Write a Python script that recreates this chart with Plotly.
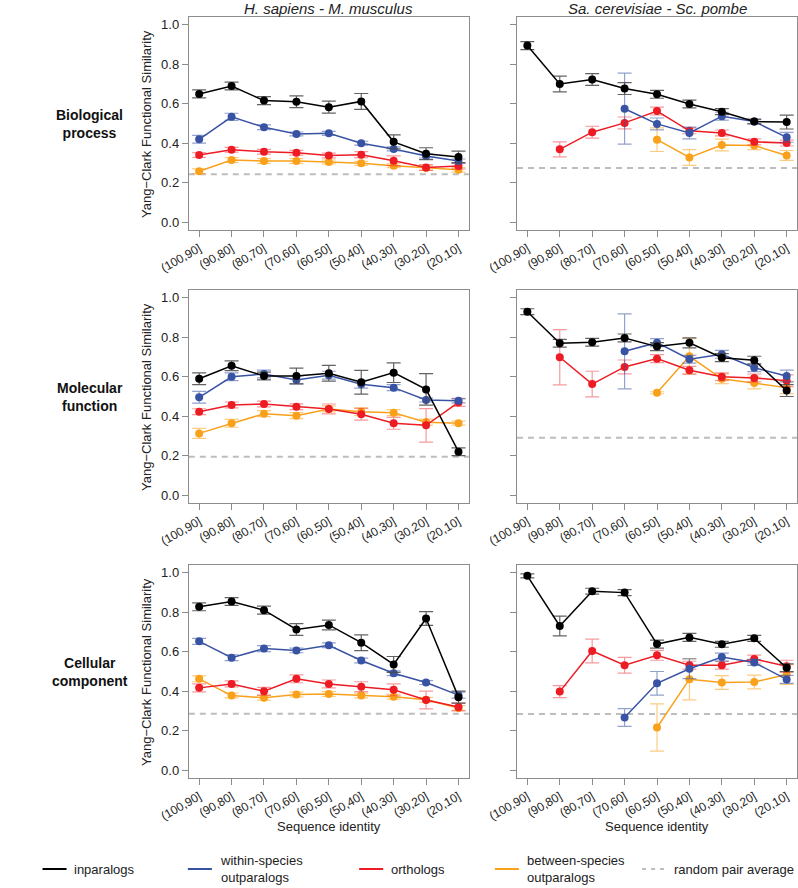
import plotly.graph_objects as go

# categories (sequence identity bins)
bins = ["(100,90]", "(90,80]", "(80,70]", "(70,60]", "(60,50]",
        "(50,40]", "(40,30]", "(30,20]", "(20,10]"]
xpos = list(range(1, 10))

col_titles = ["H. sapiens - M. musculus", "Sa. cerevisiae - Sc. pombe"]
row_titles = ["Biological<br>process", "Molecular<br>function", "Cellular<br>component"]
series_names = ["inparalogs", "within-species<br>outparalogs", "orthologs",
                "between-species<br>outparalogs", "random pair average"]
N = None

# ---- Biological process ----
bp_hs_inpar = [0.65, 0.69, 0.616, 0.61, 0.583, 0.612, 0.407, 0.347, 0.33]
bp_hs_inpar_err = [0.02, 0.02, 0.02, 0.03, 0.03, 0.04, 0.035, 0.03, 0.03]
bp_hs_within = [0.42, 0.534, 0.481, 0.447, 0.45, 0.40, 0.371, 0.335, 0.31]
bp_hs_within_err = [0.02, 0.018, 0.012, 0.01, 0.01, 0.01, 0.01, 0.01, 0.01]
bp_hs_orth = [0.34, 0.367, 0.357, 0.352, 0.338, 0.342, 0.311, 0.277, 0.285]
bp_hs_orth_err = [0.012, 0.012, 0.012, 0.012, 0.012, 0.015, 0.025, 0.015, 0.015]
bp_hs_between = [0.258, 0.315, 0.31, 0.31, 0.305, 0.298, 0.286, 0.274, 0.265]
bp_hs_between_err = [0.012, 0.012, 0.012, 0.012, 0.01, 0.01, 0.01, 0.012, 0.012]
bp_hs_random = 0.243

bp_sc_inpar = [0.895, 0.70, 0.723, 0.677, 0.648, 0.599, 0.56, 0.51, 0.507]
bp_sc_inpar_err = [0.02, 0.04, 0.03, 0.03, 0.02, 0.02, 0.015, 0.012, 0.035]
bp_sc_within = [N, N, N, 0.575, 0.498, 0.452, 0.537, 0.51, 0.43]
bp_sc_within_err = [N, N, N, 0.18, 0.03, 0.03, 0.02, 0.01, 0.025]
bp_sc_orth = [N, 0.369, 0.456, 0.503, 0.563, 0.463, 0.452, 0.407, 0.401]
bp_sc_orth_err = [N, 0.038, 0.03, 0.03, 0.02, 0.015, 0.015, 0.015, 0.015]
bp_sc_between = [N, N, N, N, 0.418, 0.328, 0.391, 0.388, 0.338]
bp_sc_between_err = [N, N, N, N, 0.06, 0.04, 0.03, 0.02, 0.025]
bp_sc_random = 0.274

# ---- Molecular function ----
mf_hs_inpar = [0.59, 0.656, 0.604, 0.604, 0.618, 0.572, 0.621, 0.536, 0.22]
mf_hs_inpar_err = [0.03, 0.025, 0.02, 0.04, 0.04, 0.06, 0.05, 0.08, 0.02]
mf_hs_within = [0.496, 0.60, 0.614, 0.584, 0.608, 0.562, 0.545, 0.482, 0.478]
mf_hs_within_err = [0.03, 0.02, 0.02, 0.02, 0.02, 0.02, 0.015, 0.01, 0.01]
mf_hs_orth = [0.423, 0.457, 0.462, 0.448, 0.437, 0.41, 0.364, 0.354, 0.47]
mf_hs_orth_err = [0.015, 0.015, 0.015, 0.015, 0.025, 0.03, 0.03, 0.085, 0.02]
mf_hs_between = [0.313, 0.364, 0.413, 0.403, 0.437, 0.423, 0.418, 0.37, 0.365]
mf_hs_between_err = [0.025, 0.02, 0.015, 0.015, 0.015, 0.02, 0.015, 0.015, 0.01]
mf_hs_random = 0.195

mf_sc_inpar = [0.93, 0.77, 0.775, 0.797, 0.753, 0.772, 0.697, 0.684, 0.53]
mf_sc_inpar_err = [0.015, 0.02, 0.02, 0.02, 0.02, 0.025, 0.02, 0.02, 0.03]
mf_sc_within = [N, N, N, 0.729, 0.773, 0.689, 0.714, 0.646, 0.604]
mf_sc_within_err = [N, N, N, 0.19, 0.02, 0.02, 0.02, 0.02, 0.03]
mf_sc_orth = [N, 0.699, 0.563, 0.65, 0.692, 0.633, 0.60, 0.594, 0.58]
mf_sc_orth_err = [N, 0.14, 0.065, 0.035, 0.02, 0.02, 0.02, 0.02, 0.03]
mf_sc_between = [N, N, N, N, 0.519, 0.704, 0.59, 0.569, 0.545]
mf_sc_between_err = [N, N, N, N, 0.005, 0.09, 0.025, 0.03, 0.03]
mf_sc_random = 0.291

# ---- Cellular component ----
cc_hs_inpar = [0.828, 0.855, 0.811, 0.713, 0.736, 0.646, 0.536, 0.769, 0.37]
cc_hs_inpar_err = [0.02, 0.02, 0.02, 0.03, 0.025, 0.04, 0.04, 0.035, 0.03]
cc_hs_within = [0.653, 0.57, 0.616, 0.607, 0.633, 0.556, 0.491, 0.444, 0.38]
cc_hs_within_err = [0.015, 0.015, 0.015, 0.012, 0.012, 0.012, 0.012, 0.01, 0.015]
cc_hs_orth = [0.417, 0.437, 0.40, 0.463, 0.437, 0.423, 0.407, 0.356, 0.32]
cc_hs_orth_err = [0.02, 0.015, 0.02, 0.02, 0.02, 0.025, 0.03, 0.045, 0.02]
cc_hs_between = [0.463, 0.378, 0.367, 0.383, 0.386, 0.378, 0.372, 0.357, 0.315]
cc_hs_between_err = [0.015, 0.012, 0.012, 0.012, 0.012, 0.012, 0.012, 0.012, 0.012]
cc_hs_random = 0.286

cc_sc_inpar = [0.985, 0.731, 0.907, 0.90, 0.639, 0.673, 0.638, 0.668, 0.519]
cc_sc_inpar_err = [0.01, 0.05, 0.015, 0.015, 0.02, 0.02, 0.015, 0.015, 0.02]
cc_sc_within = [N, N, N, 0.267, 0.44, 0.514, 0.573, 0.546, 0.46]
cc_sc_within_err = [N, N, N, 0.045, 0.06, 0.05, 0.02, 0.015, 0.02]
cc_sc_orth = [N, 0.398, 0.604, 0.532, 0.582, 0.532, 0.532, 0.563, 0.527]
cc_sc_orth_err = [N, 0.03, 0.06, 0.04, 0.025, 0.02, 0.02, 0.02, 0.03]
cc_sc_between = [N, N, N, N, 0.216, 0.461, 0.444, 0.447, 0.485]
cc_sc_between_err = [N, N, N, N, 0.12, 0.105, 0.035, 0.035, 0.05]
cc_sc_random = 0.284

panels = [
    ([bp_hs_inpar, bp_hs_within, bp_hs_orth, bp_hs_between],
     [bp_hs_inpar_err, bp_hs_within_err, bp_hs_orth_err, bp_hs_between_err], bp_hs_random),
    ([bp_sc_inpar, bp_sc_within, bp_sc_orth, bp_sc_between],
     [bp_sc_inpar_err, bp_sc_within_err, bp_sc_orth_err, bp_sc_between_err], bp_sc_random),
    ([mf_hs_inpar, mf_hs_within, mf_hs_orth, mf_hs_between],
     [mf_hs_inpar_err, mf_hs_within_err, mf_hs_orth_err, mf_hs_between_err], mf_hs_random),
    ([mf_sc_inpar, mf_sc_within, mf_sc_orth, mf_sc_between],
     [mf_sc_inpar_err, mf_sc_within_err, mf_sc_orth_err, mf_sc_between_err], mf_sc_random),
    ([cc_hs_inpar, cc_hs_within, cc_hs_orth, cc_hs_between],
     [cc_hs_inpar_err, cc_hs_within_err, cc_hs_orth_err, cc_hs_between_err], cc_hs_random),
    ([cc_sc_inpar, cc_sc_within, cc_sc_orth, cc_sc_between],
     [cc_sc_inpar_err, cc_sc_within_err, cc_sc_orth_err, cc_sc_between_err], cc_sc_random),
]

COLORS = ["#000000", "#3953A4", "#ED1C24", "#F9A11B"]
ERR_COLORS = ["rgba(70,70,70,0.85)", "rgba(57,83,164,0.55)",
              "rgba(237,28,36,0.45)", "rgba(249,161,27,0.55)"]
RANDOM_COLOR = "#BDBDBD"
FONT = "Liberation Sans"

W, H = 798, 888
X_DOMAINS = [[165 / W, 456 / W], [506 / W, 797 / W]]
Y_DOMAINS = [[1 - 230 / H, 1 - 17 / H], [1 - 503 / H, 1 - 290 / H], [1 - 778 / H, 1 - 565 / H]]

fig = go.Figure()
layout_axes = {}
shapes = []

for p, (ys, errs, rnd) in enumerate(panels):
    r, c = p // 2, p % 2
    xa = "x" if p == 0 else f"x{p + 1}"
    ya = "y" if p == 0 else f"y{p + 1}"

    # random pair average (dashed, behind data)
    shapes.append(dict(type="line", xref=f"{xa} domain", yref=ya, x0=0, x1=1,
                       y0=rnd, y1=rnd, layer="below",
                       line=dict(color=RANDOM_COLOR, width=2, dash="6px,5px")))

    for s in [3, 2, 1, 0]:
        fig.add_trace(go.Scatter(
            x=xpos, y=ys[s], xaxis=xa, yaxis=ya, mode="lines+markers",
            line=dict(color=COLORS[s], width=1.5),
            marker=dict(color=COLORS[s], size=8),
            error_y=dict(type="data", array=errs[s], color=ERR_COLORS[s],
                         thickness=1.2, width=7),
            showlegend=False, hoverinfo="skip"))

    axis_common = dict(showline=True, mirror=True, linecolor="#8C8C8C", linewidth=1,
                       ticks="outside", ticklen=6, tickcolor="#8C8C8C",
                       showgrid=False, zeroline=False,
                       tickfont=dict(family=FONT, size=13, color="#222222"))
    layout_axes["xaxis" if p == 0 else f"xaxis{p + 1}"] = dict(
        axis_common, domain=X_DOMAINS[c], anchor=ya, range=[0.68, 9.32],
        tickmode="array", tickvals=xpos, ticktext=bins, tickangle=-30,
        tickfont=dict(family=FONT, size=12, color="#222222"))
    layout_axes["yaxis" if p == 0 else f"yaxis{p + 1}"] = dict(
        axis_common, domain=Y_DOMAINS[r], anchor=xa, range=[-0.04, 1.04],
        tickmode="array", tickvals=[0, 0.2, 0.4, 0.6, 0.8, 1.0],
        ticktext=["0.0", "0.2", "0.4", "0.6", "0.8", "1.0"],
        showticklabels=(c == 0))

annotations = []
for c, t in enumerate(col_titles):
    annotations.append(dict(text=f"<i>{t}</i>", x=sum(X_DOMAINS[c]) / 2, y=1 - 8 / H,
                            xref="paper", yref="paper", showarrow=False,
                            font=dict(family=FONT, size=15, color="#222222"),
                            xanchor="center", yanchor="middle"))
for r, t in enumerate(row_titles):
    annotations.append(dict(text=f"<b>{t}</b>", x=62 / W, y=sum(Y_DOMAINS[r]) / 2,
                            xref="paper", yref="paper", showarrow=False,
                            font=dict(family=FONT, size=14, color="#111111"),
                            xanchor="center", yanchor="middle"))
    annotations.append(dict(text="Yang\u2212Clark Functional Similarity", textangle=-90,
                            x=121 / W, y=sum(Y_DOMAINS[r]) / 2,
                            xref="paper", yref="paper", showarrow=False,
                            font=dict(family=FONT, size=13, color="#222222"),
                            xanchor="center", yanchor="middle"))
for c in range(2):
    annotations.append(dict(text="Sequence identity", x=sum(X_DOMAINS[c]) / 2,
                            y=1 - 826 / H, xref="paper", yref="paper", showarrow=False,
                            font=dict(family=FONT, size=13, color="#222222"),
                            xanchor="center", yanchor="middle"))

# legend drawn as key lines + labels along the bottom
LEG_Y = 1 - 869 / H
leg_x = [13, 164, 342, 483, 636]
leg_colors = COLORS + [RANDOM_COLOR]
for i, name in enumerate(series_names):
    shapes.append(dict(type="line", xref="paper", yref="paper",
                       x0=leg_x[i] / W, x1=(leg_x[i] + 25) / W, y0=LEG_Y, y1=LEG_Y,
                       line=dict(color=leg_colors[i], width=2,
                                 dash="4px,5px" if i == 4 else "solid")))
    annotations.append(dict(text=name, x=(leg_x[i] + 31) / W, y=LEG_Y,
                            xref="paper", yref="paper", showarrow=False, align="left",
                            font=dict(family=FONT, size=13, color="#222222"),
                            xanchor="left", yanchor="middle"))

fig.update_layout(
    width=W, height=H,
    margin=dict(l=0, r=0, t=0, b=0),
    paper_bgcolor="white", plot_bgcolor="white",
    showlegend=False,
    shapes=shapes, annotations=annotations,
    **layout_axes,
)

fig.write_html("out.html", config={"displayModeBar": False},
               post_script="document.body.style.margin='0';"
                           "document.body.style.overflow='hidden';")
